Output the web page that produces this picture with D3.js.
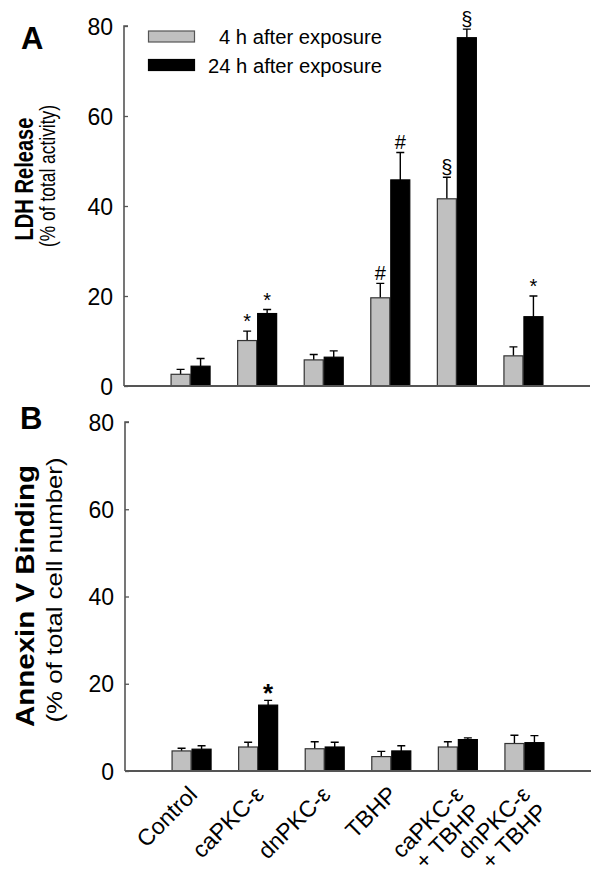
<!DOCTYPE html>
<html><head><meta charset="utf-8">
<script src="https://cdn.jsdelivr.net/npm/d3@7"></script>
<style>
body{margin:0;background:#fff;}
text{font-family:"Liberation Sans",Arial,Helvetica,sans-serif;fill:#000;}
</style></head>
<body><svg id="chart" width="600" height="889"></svg>
<script>
const categories = [["Control"],["caPKC-ε"],["dnPKC-ε"],["TBHP"],["caPKC-ε","+ TBHP"],["dnPKC-ε","+ TBHP"]];
const seriesNames = ["4 h after exposure","24 h after exposure"];
const ldh4h = [2.6, 10.1, 5.8, 19.6, 41.6, 6.7];
const ldh4hErr = [1.1, 2.1, 1.2, 3.2, 4.8, 2.0];
const ldh24h = [4.4, 16.1, 6.4, 45.8, 77.4, 15.4];
const ldh24hErr = [1.7, 0.9, 1.4, 6.1, 1.9, 4.6];
const ldh4hMarks = ["", "*", "", "#", "§", ""];
const ldh24hMarks = ["", "*", "", "#", "§", "*"];
const anx4h = [4.6, 5.5, 5.1, 3.3, 5.5, 6.3];
const anx4hErr = [0.6, 1.1, 1.6, 1.2, 1.2, 1.9];
const anx24h = [5.0, 15.1, 5.5, 4.6, 7.2, 6.5];
const anx24hErr = [0.8, 1.1, 1.1, 1.2, 0.4, 1.6];
const anx4hMarks = ["", "", "", "", "", ""];
const anx24hMarks = ["", "*", "", "", "", ""];
const yTicks = [0, 20, 40, 60, 80];

const svg = d3.select("#chart");
const keys = categories.map((c,i)=>i);
const axisColor = "#555";

function panel(opt){
  const x = d3.scalePoint().domain(keys).range([opt.x0, opt.x1]).padding(1);
  const y = d3.scaleLinear().domain([0,80]).range([opt.yb, opt.yt]);
  const g = svg.append("g");
  const ya = d3.axisRight(y).tickValues(yTicks).tickSize(4).tickFormat("");
  const yg = g.append("g").attr("transform",`translate(${opt.x0},0)`).call(ya);
  yg.select(".domain").attr("stroke",axisColor).attr("stroke-width",1.6).attr("d",`M4,${opt.yt}H0V${opt.yb}`);
  yg.selectAll(".tick line").attr("stroke",axisColor).attr("stroke-width",1.3);
  g.selectAll(".ylab").data(yTicks).join("text")
    .attr("x", opt.x0-11).attr("y", d=>y(d)+8.5).attr("text-anchor","end")
    .style("font-size","23px").text(d=>d);
  const bw = 20;
  const series = [
    {v:opt.a, e:opt.ae, m:opt.am, fill:"#c0c0c0", stroke:"#333", off:-bw},
    {v:opt.b, e:opt.be, m:opt.bm, fill:"#000", stroke:"#000", off:0}
  ];
  series.forEach(s=>{
    g.selectAll(null).data(keys).join("path")
      .attr("d", i=>{const cx=x(i)+s.off+bw/2; const t=y(s.v[i]+s.e[i]);
        return `M${cx},${y(s.v[i])}V${t}M${cx-4},${t}H${cx+4}`;})
      .attr("stroke","#000").attr("stroke-width",1.4).attr("fill","none");
    g.selectAll(null).data(keys).join("rect")
      .attr("x", i=>x(i)+s.off+0.5).attr("width", bw-1)
      .attr("y", i=>y(s.v[i])).attr("height", i=>y(0)-y(s.v[i]))
      .attr("fill", s.fill).attr("stroke", s.stroke).attr("stroke-width",1.2);
    g.selectAll(null).data(keys.filter(i=>s.m[i])).join("text")
      .attr("x", i=>x(i)+s.off+bw/2).attr("y", i=>y(s.v[i]+s.e[i])-opt.markGap)
      .attr("text-anchor","middle")
      .style("font-size", opt.markSize).style("font-weight", opt.markWeight)
      .text(i=>s.m[i]);
  });
  g.append("path").attr("d",`M${opt.x0},${opt.yb}H${opt.x1}`).attr("stroke",axisColor).attr("stroke-width",1.8);
  g.append("text").attr("x",opt.letterX).attr("y",opt.letterY).style("font-size","31px").style("font-weight","bold").text(opt.letter);
  g.append("text").attr("transform",`translate(${opt.t1x},${opt.tcy}) rotate(-90)`).attr("text-anchor","middle")
    .style("font-size",opt.t1size).style("font-weight","bold")
    .attr("textLength",opt.t1len).attr("lengthAdjust","spacingAndGlyphs").text(opt.t1);
  g.append("text").attr("transform",`translate(${opt.t2x},${opt.tcy2}) rotate(-90)`).attr("text-anchor","middle")
    .style("font-size",opt.t2size)
    .attr("textLength",opt.t2len).attr("lengthAdjust","spacingAndGlyphs").text(opt.t2);
  return x;
}

panel({x0:124,x1:590,yb:386,yt:26,a:ldh4h,ae:ldh4hErr,am:ldh4hMarks,b:ldh24h,be:ldh24hErr,bm:ldh24hMarks,
  markGap:3,markSize:"20px",markWeight:"normal",letter:"A",letterX:21,letterY:49,
  t1:"LDH Release",t1x:33,tcy:179,t1size:"25px",t1len:123,
  t2:"(% of total activity)",t2x:55,tcy2:176,t2size:"22px",t2len:142});

const xB = panel({x0:125,x1:591,yb:771,yt:422,a:anx4h,ae:anx4hErr,am:anx4hMarks,b:anx24h,be:anx24hErr,bm:anx24hMarks,
  markGap:-2,markSize:"26px",markWeight:"bold",letter:"B",letterX:20,letterY:429,
  t1:"Annexin V Binding",t1x:34,tcy:596,t1size:"25px",t1len:262,
  t2:"(% of total cell number)",t2x:62,tcy2:590,t2size:"22px",t2len:265});

const lg = svg.append("g");
const legendColors = [["#c0c0c0","#555"],["#000","#000"]];
seriesNames.forEach((n,i)=>{
  lg.append("rect").attr("x",148.5).attr("y",31+i*28.5).attr("width",46).attr("height",11)
    .attr("fill",legendColors[i][0]).attr("stroke",legendColors[i][1]).attr("stroke-width",1.2);
  lg.append("text").attr("x",382).attr("y",44+i*28.5).attr("text-anchor","end")
    .style("font-size","20px").attr("textLength", i===0?163:174).attr("lengthAdjust","spacingAndGlyphs").text(n);
});

const xl = svg.append("g");
categories.forEach((lines,i)=>{
  const cx = xB(i);
  const t = xl.append("text").attr("transform",`translate(${cx+7},${796}) rotate(-45)`)
    .attr("text-anchor","end").style("font-size","23px");
  lines.forEach((ln,j)=>{
    t.append("tspan").attr("x",0).attr("dy", j===0?0:"1.05em").text(ln);
  });
});
</script></body></html>
